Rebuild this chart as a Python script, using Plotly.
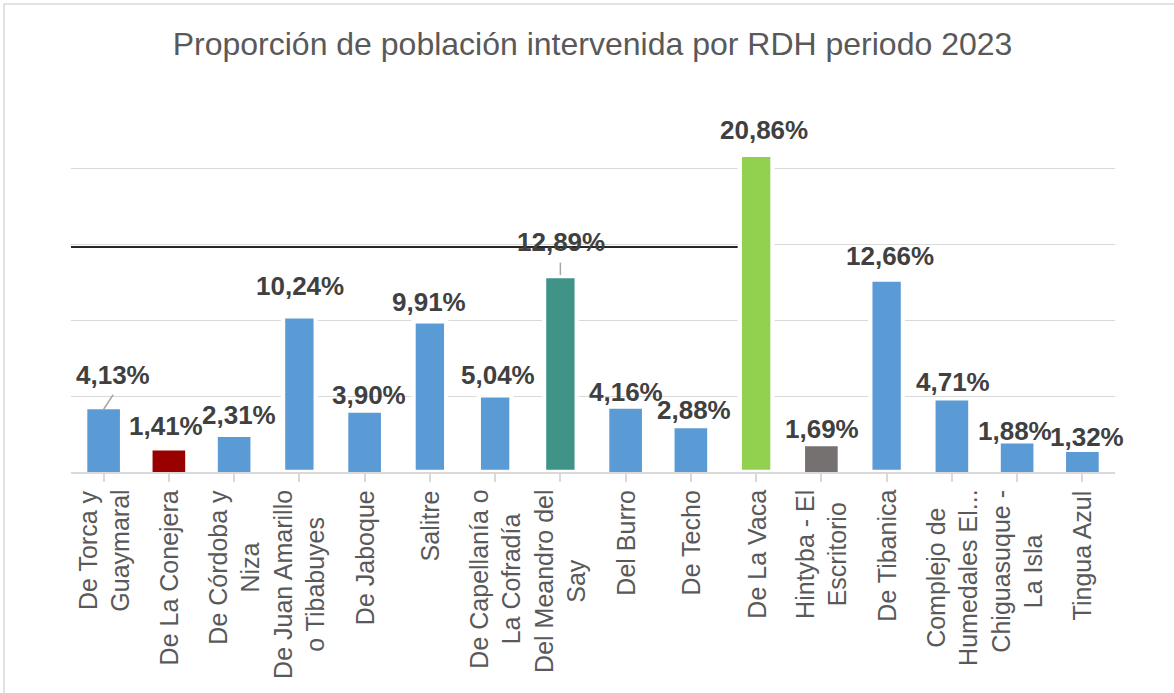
import plotly.graph_objects as go

# Humedales (RDH) y proporción de población intervenida en 2023 (%)
humedales = [
    "De Torca y<br>Guaymaral",
    "De La Conejera",
    "De Córdoba y<br>Niza",
    "De Juan Amarillo<br>o Tibabuyes",
    "De Jaboque",
    "Salitre",
    "De Capellanía o<br>La Cofradía",
    "Del Meandro del<br>Say",
    "Del Burro",
    "De Techo",
    "De La Vaca",
    "Hintyba - El<br>Escritorio",
    "De Tibanica",
    "Complejo de<br>Humedales El...",
    "Chiguasuque -<br>La Isla",
    "Tingua Azul",
]
proporcion = [4.13, 1.41, 2.31, 10.24, 3.90, 9.91, 5.04, 12.89,
              4.16, 2.88, 20.86, 1.69, 12.66, 4.71, 1.88, 1.32]

# Nivel de referencia marcado con la línea negra
nivel_referencia = 14.8

# --- estilo ---
AZUL = "#5b9bd5"
colores_especiales = {1: "#990000", 7: "#3f9387", 10: "#92d050", 11: "#767171"}
colores = [colores_especiales.get(i, AZUL) for i in range(len(proporcion))]
bordes = [4.3 if v >= 5 else 0 for v in proporcion]

# desplazamiento (px) de cada etiqueta de dato respecto al extremo de su barra
desp_x = [9, -3, 5, 0.6, 4.4, -1, 3, 0.6, 0.4, 3, 7.4, 0.6, 3.4, 1, -2.6, 5]
desp_y = [32, 22.6, 20, 28.5, 16, 17.5, 18, 32, 15, 16, 22.6, 15, 22, 16.5, 10, 13.4]

x_idx = list(range(len(humedales)))

fig = go.Figure()
fig.add_trace(go.Bar(
    x=x_idx,
    y=proporcion,
    width=0.5,
    marker=dict(color=colores, line=dict(color="white", width=bordes)),
    hoverinfo="skip",
))

FUENTE = "Liberation Sans, Arial, sans-serif"
anotaciones = []
for i, v in enumerate(proporcion):
    anotaciones.append(dict(
        x=i, y=v, xref="x", yref="y",
        text=f"{v:.2f}".replace(".", ",") + "%",
        showarrow=False, xanchor="center", yanchor="middle",
        xshift=desp_x[i], yshift=desp_y[i] + 2,
        font=dict(family=FUENTE, size=26, color="#404040", weight="bold"),
    ))

# rótulos de categoría rotados y centrados línea a línea
for i, nombre in enumerate(humedales):
    anotaciones.append(dict(
        x=i, y=0, xref="x", yref="paper",
        text=nombre, textangle=-90, align="center",
        showarrow=False, xanchor="center", yanchor="top",
        yshift=-16,
        font=dict(family=FUENTE, size=25, color="#595959"),
    ))

formas = [
    # línea de referencia
    dict(type="line", xref="x", yref="y", x0=-0.5, x1=9.75,
         y0=nivel_referencia, y1=nivel_referencia,
         line=dict(color="#262626", width=2), layer="below"),
    # líneas guía de etiquetas desplazadas
    dict(type="line", xref="x", yref="y", xsizemode="pixel", ysizemode="pixel",
         xanchor=0, yanchor=proporcion[0], x0=0, x1=9.5, y0=0, y1=14.5,
         line=dict(color="#a6a6a6", width=1.5)),
    dict(type="line", xref="x", yref="y", xsizemode="pixel", ysizemode="pixel",
         xanchor=7, yanchor=proporcion[7], x0=0, x1=0, y0=1, y1=13.5,
         line=dict(color="#a6a6a6", width=1.5)),
    # marco del gráfico
    dict(type="rect", xref="paper", yref="paper",
         x0=(4 - 71) / 1044, x1=1.2, y0=-1.0, y1=(472 - 4) / 380,
         line=dict(color="#d9d9d9", width=1.5), fillcolor="rgba(0,0,0,0)",
         layer="below"),
]

fig.update_layout(
    width=1174, height=693, autosize=False,
    margin=dict(l=71, r=59, t=92, b=221, pad=0),
    paper_bgcolor="white", plot_bgcolor="white",
    showlegend=False,
    bargap=0.5,
    title=dict(
        text="Proporción de población intervenida por RDH periodo 2023",
        x=592.5 / 1174, xanchor="center", xref="container",
        y=1 - 44 / 693, yanchor="middle", yref="container",
        font=dict(family=FUENTE, size=32, color="#595959"),
    ),
    xaxis=dict(
        range=[-0.5, len(humedales) - 0.5],
        tickmode="array", tickvals=x_idx, ticktext=[""] * len(x_idx),
        showticklabels=False,
        tickson="boundaries", ticks="outside", ticklen=8,
        tickcolor="#d9d9d9", tickwidth=1.5,
        showline=True, linecolor="#d9d9d9", linewidth=1.5,
        showgrid=False, zeroline=False, fixedrange=True,
    ),
    yaxis=dict(
        range=[0, 25], dtick=5, showticklabels=False,
        showgrid=True, gridcolor="#d9d9d9", gridwidth=1.3,
        zeroline=False, showline=False, fixedrange=True,
    ),
    annotations=anotaciones,
    shapes=formas,
)

fig.write_html("out.html")
